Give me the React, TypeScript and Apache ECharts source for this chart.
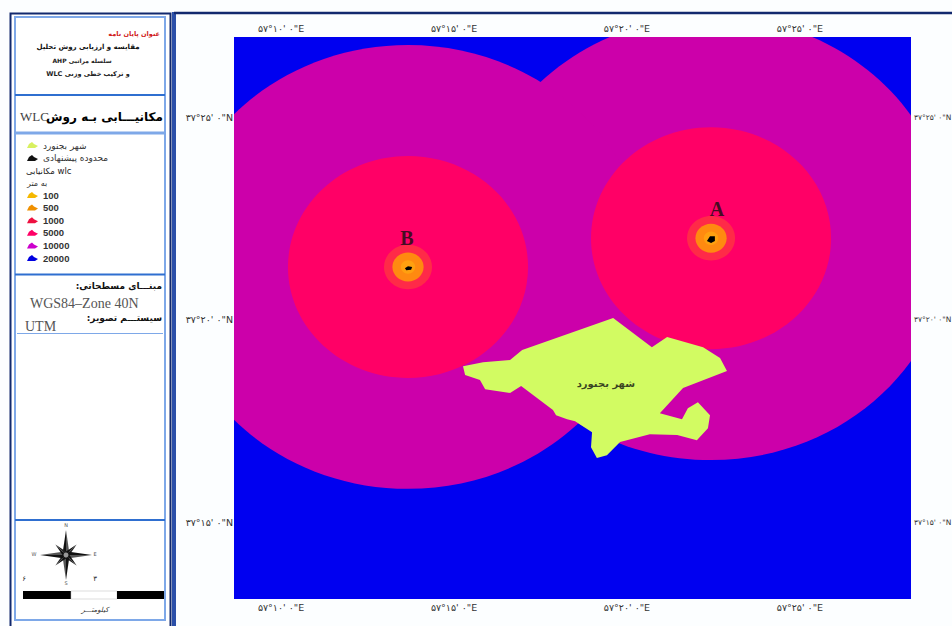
import React, { useEffect, useRef } from "react";
import * as echarts from "echarts";

// Graticule ticks (arc-minutes past 57 deg E and 37 deg N)
const lonTicks = [10, 15, 20, 25];
const latTicks = [15, 20, 25];
const lonLabels: Record<number, string> = { 10: "۵۷°۱۰' ۰\"E", 15: "۵۷°۱۵' ۰\"E", 20: "۵۷°۲۰' ۰\"E", 25: "۵۷°۲۵' ۰\"E" };
const latLabels: Record<number, string> = { 15: "۳۷°۱۵' ۰\"N", 20: "۳۷°۲۰' ۰\"N", 25: "۳۷°۲۵' ۰\"N" };

// Candidate sites (arc-minutes)
const siteA = [22.43, 22.01];
const siteB = [13.67, 21.30];

// Zones: outer radius in metres
const zoneRadii = [20000, 10000, 5000, 1000, 650, 300];
const zoneColors = ["#0000f0", "#cc00aa", "#ff0066", "#ff2a48", "#ff8a10", "#ffa010"];
const metresPerMinLon = 1441;
const metresPerMinLat = 1825;

// City outline (arc-minutes)
const cityOutline = [
  [15.26, 18.85], [15.32, 18.63], [15.75, 18.51], [15.90, 18.28], [16.62, 18.19], [16.94, 18.36],
  [17.86, 17.77], [17.95, 17.64], [18.27, 17.54], [18.50, 17.49], [18.99, 17.22], [18.96, 16.85],
  [19.13, 16.58], [19.42, 16.65], [19.80, 16.98], [20.66, 17.17], [21.45, 17.15], [22.02, 17.02],
  [22.34, 17.32], [22.40, 17.64], [22.05, 17.96], [21.76, 17.81], [21.59, 17.54], [20.95, 17.69],
  [21.62, 18.31], [22.89, 18.73], [22.69, 19.05], [22.20, 19.32], [21.16, 19.57], [20.72, 19.32],
  [19.60, 20.04], [16.97, 19.25], [16.62, 19.00], [15.84, 18.95],
];
const footprintA = [[22.31, 21.94], [22.40, 22.06], [22.54, 22.06], [22.54, 21.94], [22.43, 21.89]];
const footprintB = [[13.58, 21.27], [13.67, 21.32], [13.79, 21.30], [13.76, 21.23], [13.62, 21.22]];

const mapLabels = [
  { name: "A", value: [22.6, 22.73], size: 20, font: "Liberation Serif" },
  { name: "B", value: [13.64, 22.01], size: 20, font: "Liberation Serif" },
  { name: "شهر بجنورد", value: [19.39, 18.41], size: 10, font: "DejaVu Sans" },
];

// Legend / side panel
const titleLines = ["مقایسه و ارزیابی روش تحلیل", "AHP سلسله مراتبی", "WLC و ترکیب خطی وزنی"];
const legendClasses = ["100", "500", "1000", "5000", "10000", "20000"];
const legendColors = ["#f5b800", "#f09000", "#ee1040", "#ff0066", "#cc00cc", "#0000e0"];

const FA = "DejaVu Sans";
const SERIF = "Liberation Serif";

function txt(text: string, x: number, y: number, fontSize: number, opts: any = {}) {
  return {
    type: "text",
    x,
    y,
    silent: true,
    style: {
      text,
      fontSize,
      fontFamily: opts.font || FA,
      fontWeight: opts.weight || "normal",
      fontStyle: opts.italic ? "italic" : "normal",
      fill: opts.fill || "#222",
      align: opts.align || "left",
      verticalAlign: "middle",
    },
  };
}
function rect(x: number, y: number, w: number, h: number, fill: string, stroke?: string, lineWidth = 1) {
  return { type: "rect", silent: true, shape: { x, y, width: w, height: h }, style: { fill, stroke, lineWidth } };
}
function hline(x1: number, x2: number, y: number, stroke: string, lineWidth: number) {
  return { type: "line", silent: true, shape: { x1, y1: y, x2, y2: y }, style: { stroke, lineWidth } };
}
function swatch(x: number, y: number, fill: string) {
  return {
    type: "polygon",
    silent: true,
    shape: { points: [[x, y + 3], [x + 2, y - 1], [x + 5, y - 3], [x + 7, y - 1], [x + 11, y + 1], [x + 8, y + 3]] },
    style: { fill },
  };
}
function compass(cx: number, cy: number) {
  const els: any[] = [];
  for (let i = 0; i < 8; i++) {
    const a = (i * Math.PI) / 4;
    const long = i % 2 === 0;
    const r = long ? (i % 4 === 0 ? 25 : 26) : 15;
    const w = long ? 4.5 : 3.5;
    const tip = [cx + r * Math.sin(a), cy - r * Math.cos(a)];
    const l = [cx + w * Math.sin(a - Math.PI / 4), cy - w * Math.cos(a - Math.PI / 4)];
    const rr = [cx + w * Math.sin(a + Math.PI / 4), cy - w * Math.cos(a + Math.PI / 4)];
    els.push({ type: "polygon", silent: true, shape: { points: [tip, l, [cx, cy]] }, style: { fill: "#111" } });
    els.push({ type: "polygon", silent: true, shape: { points: [tip, rr, [cx, cy]] }, style: { fill: long ? "#555" : "#222" } });
  }
  els.push({ type: "circle", silent: true, shape: { cx, cy, r: 2.5 }, style: { fill: "#999" } });
  return els;
}

function panel() {
  const navy = "#12296e";
  const blue = "#2f6fd0";
  const light = "#7ea8e8";
  const els: any[] = [
    rect(10.5, 13.5, 160, 620, "#ffffff", navy, 2),
    rect(15, 17, 150, 603, "#ffffff", light, 2),
    hline(15, 165, 95, blue, 2),
    hline(15, 165, 133, light, 3),
    hline(15, 165, 274.5, blue, 2),
    hline(17, 163, 333.5, light, 1),
    hline(15, 165, 520, blue, 2),
    // map frame
    rect(172, 12, 4, 620, "#2b4fa8"),
    hline(174, 952, 13, navy, 2.5),
    txt("عنوان پایان نامه", 160, 34, 6.5, { fill: "#d02020", align: "right", weight: "bold" }),
    txt(titleLines[0], 88, 47, 7, { align: "center", weight: "bold", fill: "#111" }),
    txt(titleLines[1], 82, 60, 6, { align: "center", weight: "bold", fill: "#222" }),
    txt(titleLines[2], 88, 74, 6.5, { align: "center", weight: "bold", fill: "#222" }),
    txt("WLC", 20, 116, 13, { font: SERIF, fill: "#444" }),
    txt("مکانیـــابی بـه روش", 163, 117, 12, { align: "right", weight: "bold", fill: "#000" }),
    swatch(27, 145, "#d8f060"),
    txt("شهر بجنورد", 43, 146, 9, { fill: "#333" }),
    swatch(27, 158, "#111"),
    txt("محدوده پیشنهادی", 43, 158, 9, { fill: "#333" }),
    txt("مکانیابی wlc", 26, 171, 8.5, { fill: "#222" }),
    txt("به متر", 27, 183, 8, { fill: "#333" }),
    txt(":مبنـــای مسطحاتی", 162, 286, 9, { align: "right", weight: "bold", fill: "#111" }),
    txt("WGS84–Zone 40N", 30, 303, 14, { font: SERIF, fill: "#555" }),
    txt(":سیستـــم تصویر", 162, 318, 9, { align: "right", weight: "bold", fill: "#111" }),
    txt("UTM", 25, 326, 14, { font: SERIF, fill: "#555" }),
    ...compass(66, 555),
    txt("N", 66, 525, 5, { align: "center", fill: "#555" }),
    txt("S", 66, 583, 5, { align: "center", fill: "#555" }),
    txt("W", 34, 554, 5, { align: "center", fill: "#555" }),
    txt("E", 95, 554, 5, { align: "center", fill: "#555" }),
    txt("۶", 24, 579, 7, { align: "center" }),
    txt("۳", 95, 579, 7, { align: "center" }),
    rect(23, 591, 48, 8, "#000"),
    rect(71, 591, 46, 8, "#fff", "#bbb", 0.5),
    rect(117, 591, 47, 8, "#000"),
    txt("کیلومتـــر", 95, 610, 7, { align: "center", italic: true, fill: "#333" }),
  ];
  legendClasses.forEach((c, i) => {
    const y = 195 + i * 12.6;
    els.push(swatch(27, y, legendColors[i]));
    els.push(txt(c, 43, y, 9.5, { weight: "bold", fill: "#333", font: "Liberation Sans" }));
  });
  return els;
}

export default function App() {
  const ref = useRef<HTMLDivElement>(null);
  useEffect(() => {
    document.body.style.margin = "0";
    document.body.style.overflow = "hidden";
    const chart = echarts.init(ref.current!, undefined, { renderer: "svg" });

    const zoneData: any[] = [];
    zoneRadii.forEach((r, i) => {
      [siteA, siteB].forEach((s) => zoneData.push([s[0], s[1], r, i]));
    });

    const labelStyle = { color: "#333", fontSize: 9.5, fontFamily: FA, margin: 3 };
    const splitOff = { show: false };
    const baseX = {
      type: "value",
      min: 8.64,
      max: 28.21,
      axisLine: splitOff,
      axisTick: splitOff,
      splitLine: splitOff,
      axisPointer: splitOff,
    };
    const baseY = {
      type: "value",
      min: 13.1,
      max: 26.98,
      axisLine: splitOff,
      axisTick: splitOff,
      splitLine: splitOff,
    };
    const polygonSeries = (points: number[][], fill: string, z: number) => ({
      type: "custom",
      coordinateSystem: "cartesian2d",
      silent: true,
      clip: true,
      z,
      data: points,
      renderItem: (params: any, api: any) => {
        if (params.dataIndex !== 0) return null;
        return {
          type: "polygon",
          shape: { points: points.map((p) => api.coord(p)) },
          style: { fill },
        };
      },
    });

    chart.setOption({
      animation: false,
      backgroundColor: "#fcfeff",
      grid: {
        left: 234,
        top: 37,
        width: 677,
        height: 562,
        show: true,
        backgroundColor: zoneColors[0],
        borderWidth: 0,
        outerBoundsMode: "none",
        containLabel: false,
      },
      xAxis: [
        {
          ...baseX,
          position: "bottom",
          axisLabel: {
            ...labelStyle,
            margin: 3,
            customValues: lonTicks,
            formatter: (v: number) => lonLabels[v] || "",
          },
        },
        {
          ...baseX,
          position: "top",
          axisLabel: {
            ...labelStyle,
            margin: 4,
            customValues: lonTicks,
            formatter: (v: number) => lonLabels[v] || "",
          },
        },
      ],
      yAxis: [
        {
          ...baseY,
          position: "left",
          axisLabel: {
            ...labelStyle,
            margin: 1,
            customValues: latTicks,
            formatter: (v: number) => latLabels[v] || "",
          },
        },
        {
          ...baseY,
          position: "right",
          axisLabel: {
            ...labelStyle,
            fontSize: 7.5,
            margin: 3,
            customValues: latTicks,
            formatter: (v: number) => latLabels[v] || "",
          },
        },
      ],
      graphic: panel(),
      series: [
        {
          type: "custom",
          name: "zones",
          coordinateSystem: "cartesian2d",
          silent: true,
          clip: true,
          z: 2,
          data: zoneData,
          renderItem: (_p: any, api: any) => {
            const c = api.coord([api.value(0), api.value(1)]);
            const r = api.value(2);
            const s = api.size([r / metresPerMinLon, r / metresPerMinLat]);
            return {
              type: "ellipse",
              shape: { cx: c[0], cy: c[1], rx: s[0], ry: s[1] },
              style: { fill: zoneColors[api.value(3)] },
            };
          },
        },
        polygonSeries(cityOutline, "#d2fb62", 3),
        polygonSeries(footprintA, "#000000", 4),
        polygonSeries(footprintB, "#000000", 4),
        {
          type: "scatter",
          silent: true,
          z: 5,
          symbolSize: 0,
          data: mapLabels.map((l) => ({
            name: l.name,
            value: l.value,
            label: {
              show: true,
              position: "inside",
              formatter: "{b}",
              color: "#111",
              fontWeight: "bold",
              fontSize: l.size,
              fontFamily: l.font,
            },
          })),
        },
      ],
    });
    return () => chart.dispose();
  }, []);
  return <div ref={ref} style={{ width: 952, height: 626, overflow: "hidden" }} />;
}
